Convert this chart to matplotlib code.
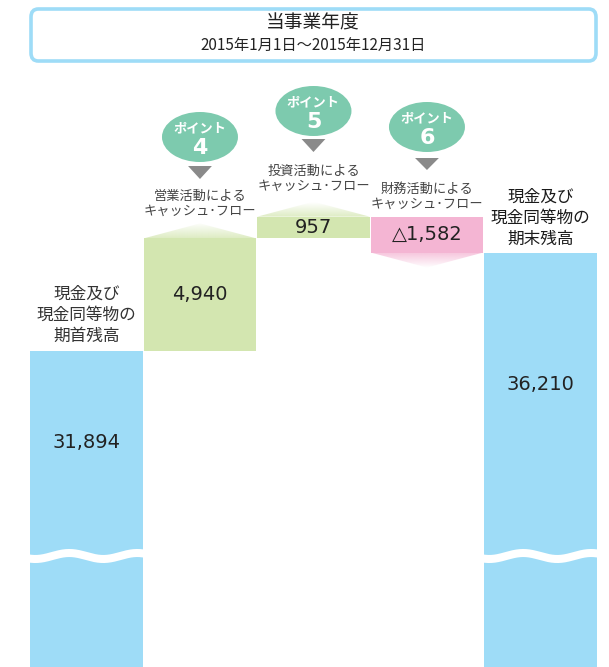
import numpy as np
import matplotlib
matplotlib.use("Agg")
import matplotlib.pyplot as plt
from matplotlib.patches import Polygon, Ellipse, FancyBboxPatch
from matplotlib.transforms import blended_transform_factory

plt.rcParams['font.family'] = ['Noto Sans CJK JP', 'DejaVu Sans']

# ---- data ----
categories = ["現金及び\n現金同等物の\n期首残高",
              "営業活動による\nキャッシュ･フロー",
              "投資活動による\nキャッシュ･フロー",
              "財務活動による\nキャッシュ･フロー",
              "現金及び\n現金同等物の\n期末残高"]
begin_balance = 31894
flows = [4940, 957, -1582]
end_balance = 36210
value_labels = ["31,894", "4,940", "957", "△1,582", "36,210"]
points = ["", "4", "5", "6", ""]
title_main = "当事業年度"
title_sub = "2015年1月1日〜2015年12月31日"

BLUE = "#9EDCF7"
GREEN = "#D3E6B0"
PINK = "#F4B5D3"
MINT = "#7DCAAE"
GRAY = "#8A8A8A"
TXT = "#333333"
VAL_FONT = ['DejaVu Sans']

W, H = 609, 667
fig = plt.figure(figsize=(W / 100, H / 100), dpi=100)
ax = fig.add_axes([0, 0, 1, 1])
ax.axis("off")

# pixel scale: 0.0227 px per unit, begin balance top at pixel 350.5
k = 0.0227
def v_at(py):
    return begin_balance - (py - 350.5) / k

def fy(py):
    return 1 - py / H

bt = blended_transform_factory(ax.transData, fig.transFigure)
bw = 0.99

# ---- bars ----
ax.bar(0, begin_balance, width=bw, color=BLUE, zorder=2)
cum = begin_balance
tops = []
for i, f in enumerate(flows, start=1):
    color = GREEN if f > 0 else PINK
    bottom = cum if f > 0 else cum + f
    ax.bar(i, abs(f), bottom=bottom, width=bw, color=color, zorder=2)
    tops.append((bottom, bottom + abs(f)))
    cum += f
ax.bar(4, end_balance, width=bw, color=BLUE, zorder=2)

# ---- gradient triangles ----
tri_h = 15 / k
def grad_triangle(xc, base, apex, rgb):
    poly = Polygon([(xc - bw / 2, base), (xc + bw / 2, base), (xc, apex)],
                   closed=True, facecolor="none", edgecolor="none")
    ax.add_patch(poly)
    n = 64
    img = np.zeros((n, 2, 4))
    img[..., :3] = matplotlib.colors.to_rgb(rgb)
    img[..., 3] = np.linspace(0.75, 0.0, n)[:, None]
    lo, hi = min(base, apex), max(base, apex)
    if apex < base:
        img = img[::-1]
    im = ax.imshow(img, extent=[xc - bw / 2, xc + bw / 2, lo, hi],
                   origin="lower", aspect="auto", zorder=1, interpolation="bilinear")
    im.set_clip_path(poly)

for i, f in enumerate(flows, start=1):
    b, t = tops[i - 1]
    if f > 0:
        grad_triangle(i, t, t + tri_h, GREEN)
    else:
        grad_triangle(i, b, b - tri_h, PINK)
ax.set_ylim(v_at(H), v_at(0))
ax.set_xlim(-0.762, 4.604)

# ---- wave breaks ----
wave_c = v_at(556)
A = 3 / k
P = 68 / 113.5
for xc in (0, 4):
    xs = np.linspace(xc - bw / 2 - 0.02, xc + bw / 2 + 0.02, 300)
    xpk = xc - bw / 2 + 39 / 113.5
    ys = wave_c + A * np.cos(2 * np.pi * (xs - xpk) / P)
    ax.plot(xs, ys, color="white", lw=5.8, solid_capstyle="butt", zorder=3)

# ---- value labels ----
vkw = dict(ha="center", va="center", fontsize=14, color="#222222", zorder=4,
           family=VAL_FONT)
ax.text(0, v_at(442), value_labels[0], **vkw)
for i, f in enumerate(flows, start=1):
    b, t = tops[i - 1]
    ax.text(i, (b + t) / 2, value_labels[i], **vkw)
ax.text(4, v_at(385), value_labels[4], **vkw)

# ---- side labels ----
ax.text(0, fy(315), categories[0], transform=bt, ha="center", va="center",
        fontsize=12, color=TXT, linespacing=1.3)
ax.text(4, fy(218), categories[4], transform=bt, ha="center", va="center",
        fontsize=12, color="#1a1a1a", linespacing=1.3)

# ---- flow labels & badges ----
label_y = {1: 204, 2: 179, 3: 197}
tri_y = {1: (166, 179), 2: (139, 152), 3: (158, 170)}
badge_y = {1: 137, 2: 111, 3: 127}
for i in (1, 2, 3):
    ax.text(i, fy(label_y[i]), categories[i], transform=bt, ha="center",
            va="center", fontsize=9.5, color="#444444", linespacing=1.2)
    t0, t1 = tri_y[i]
    ax.add_patch(Polygon([(i - 0.105, fy(t0)), (i + 0.105, fy(t0)), (i, fy(t1))],
                         closed=True, transform=bt, facecolor=GRAY,
                         edgecolor="none"))
    ax.add_patch(Ellipse((i, fy(badge_y[i])), 76 / 113.5, 50 / H,
                         transform=bt, facecolor=MINT, edgecolor="none"))
    ax.text(i, fy(badge_y[i] - 9), "ポイント", transform=bt, ha="center",
            va="center", fontsize=9.5, color="white", fontweight="bold")
    ax.text(i, fy(badge_y[i] + 11), points[i], transform=bt, ha="center",
            va="center", fontsize=16, color="white", fontweight="bold",
            family=VAL_FONT)

# ---- title box ----
box = FancyBboxPatch((31 / W, fy(61)), (596 - 31) / W, (61 - 9) / H,
                     boxstyle="round,pad=0,rounding_size=0.012",
                     transform=fig.transFigure, facecolor="white",
                     edgecolor=BLUE, lw=2.6)
fig.patches.append(box)
fig.text(313 / W, fy(23), title_main, ha="center", va="center",
         fontsize=13.5, color="#222222")
fig.text(313 / W, fy(45), title_sub, ha="center", va="center",
         fontsize=11, color="#222222")

fig.savefig("out.png", dpi=100)
